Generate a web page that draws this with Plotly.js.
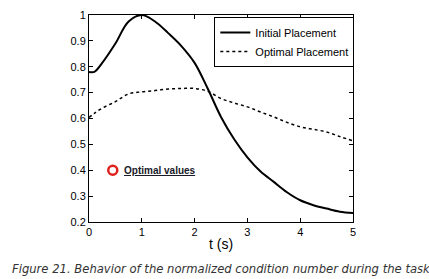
<!DOCTYPE html>
<html><head><meta charset="utf-8">
<script src="https://cdn.plot.ly/plotly-3.0.1.min.js"></script>
<style>html,body{margin:0;padding:0;background:#fff}#chart{width:429px;height:279px}</style>
</head><body><div id="chart"></div>
<script>
var tValues = [0, 0.1, 0.25, 0.5, 0.75, 1.0, 1.25, 1.5, 1.75, 2.0, 2.25, 2.5, 2.75, 3.0, 3.25, 3.5, 3.75, 4.0, 4.25, 4.5, 4.75, 5.0];
var initialPlacement = [0.78, 0.78, 0.815, 0.89, 0.975, 1.0, 0.975, 0.93, 0.88, 0.815, 0.715, 0.606, 0.52, 0.45, 0.395, 0.355, 0.315, 0.284, 0.265, 0.252, 0.24, 0.235];
var optimalPlacement = [0.604, 0.62, 0.64, 0.665, 0.695, 0.703, 0.708, 0.714, 0.716, 0.716, 0.705, 0.677, 0.66, 0.645, 0.625, 0.606, 0.585, 0.568, 0.558, 0.548, 0.53, 0.514];
var optimalPoint = {t: [0.45], v: [0.4]};
var seriesNames = ["Initial Placement", "Optimal Placement"];
var xTicks = [0, 1, 2, 3, 4, 5];
var yTicks = [0.2, 0.3, 0.4, 0.5, 0.6, 0.7, 0.8, 0.9, 1];
var yTickText = ["0.2", "0.3", "0.4", "0.5", "0.6", "0.7", "0.8", "0.9", "1"];

var traces = [
  {x: tValues, y: initialPlacement, name: seriesNames[0], mode: "lines", line: {color: "#000", width: 2, shape: "spline"}},
  {x: tValues, y: optimalPlacement, name: seriesNames[1], mode: "lines", line: {color: "#000", width: 1.5, dash: "dot", shape: "spline"}},
  {x: optimalPoint.t, y: optimalPoint.v, mode: "markers", showlegend: false, marker: {symbol: "circle-open", size: 9, color: "#e0201c", line: {width: 2.5, color: "#e0201c"}}}
];
var axisCommon = {showline: true, linecolor: "#000", linewidth: 1, mirror: "allticks", ticks: "inside", ticklen: 4, tickcolor: "#000", showgrid: false, zeroline: false, tickfont: {family: "Liberation Sans, Arial", size: 11, color: "#000"}};
var layout = {
  width: 429, height: 279,
  margin: {l: 89, r: 76, t: 15, b: 57},
  paper_bgcolor: "#fff", plot_bgcolor: "#fff",
  font: {family: "Liberation Sans, Arial", color: "#000"},
  xaxis: Object.assign({}, axisCommon, {range: [0, 5], tickvals: xTicks, ticktext: xTicks.map(String), ticklabelstandoff: 0,
    title: {text: "t (s)", font: {size: 14, family: "Liberation Sans, Arial"}, standoff: 1}}),
  yaxis: Object.assign({}, axisCommon, {range: [0.2, 1], tickvals: yTicks, ticktext: yTickText}),
  showlegend: true,
  legend: {x: 1.005, xanchor: "right", y: 0.99, yanchor: "top", bgcolor: "#fff", bordercolor: "#000", borderwidth: 1,
    font: {size: 11, family: "Liberation Sans, Arial"}, itemwidth: 30, tracegroupgap: 0},
  annotations: [
    {x: 0.63, y: 0.4, xref: "x", yref: "y", xanchor: "left", yanchor: "middle", showarrow: false,
     text: "<b><u>Optimal values</u></b>", font: {size: 10, color: "#1a1a2a", family: "Liberation Sans, Arial"}},
    {x: 0.5, y: 0.0, xref: "paper", yref: "paper", xanchor: "center", yanchor: "middle", yshift: -(269-222),
     showarrow: false, text: "<i>Figure 21. Behavior of the normalized condition number during the task</i>",
     font: {size: 11.6, color: "#333", family: "DejaVu Sans"}}
  ]
};
Plotly.newPlot("chart", traces, layout, {displayModeBar: false, staticPlot: true});
</script></body></html>
